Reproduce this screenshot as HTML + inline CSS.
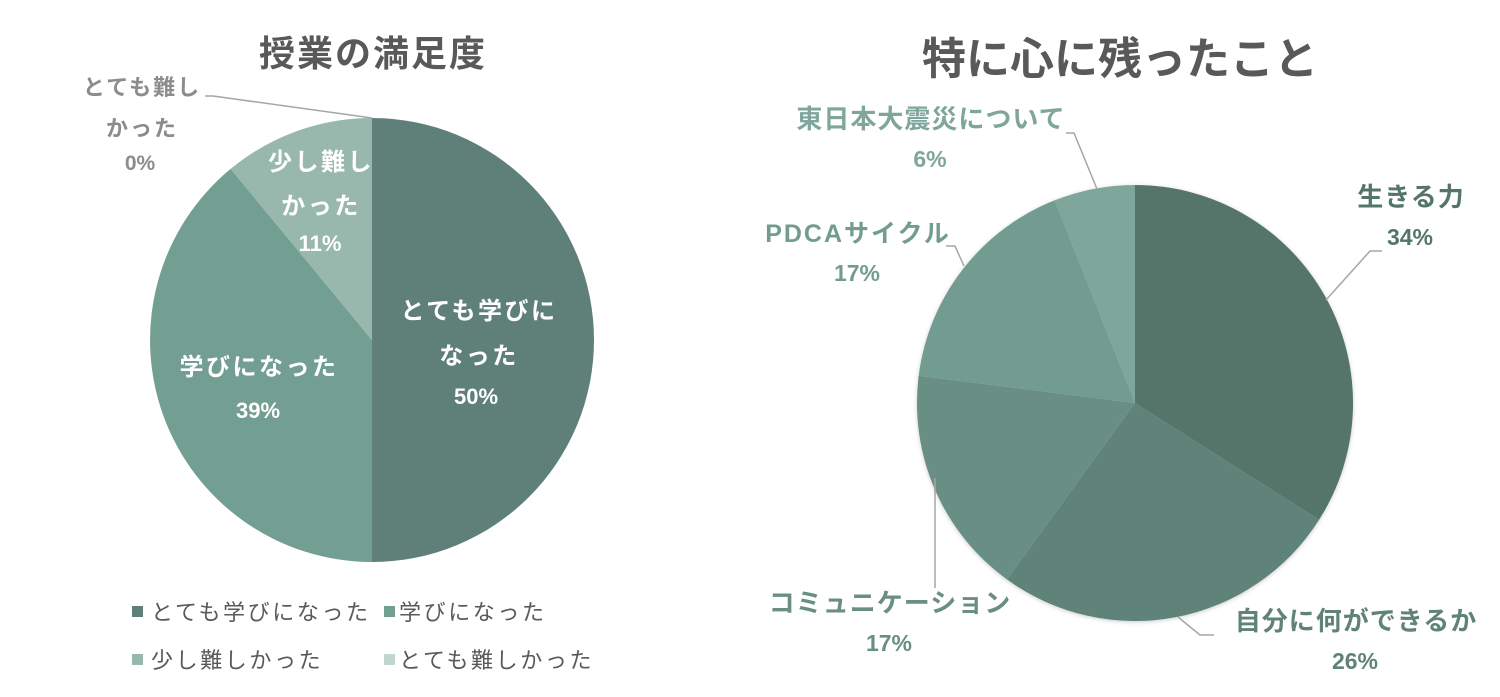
<!DOCTYPE html>
<html><head><meta charset="utf-8"><style>
html,body{margin:0;padding:0;background:#fff;}
svg{display:block;}
text{font-family:"Liberation Sans","Noto Sans CJK JP",sans-serif;}
</style></head><body>
<svg width="1500" height="697" viewBox="0 0 1500 697" xmlns="http://www.w3.org/2000/svg">
<defs>
<filter id="sh" x="-10%" y="-10%" width="120%" height="120%"><feDropShadow dx="0" dy="1" stdDeviation="2" flood-color="#000" flood-opacity="0.2"/></filter>
</defs>
<text x="373" y="66" text-anchor="middle" font-size="36" font-weight="bold" fill="#595959" letter-spacing="2">授業の満足度</text>
<path d="M372,340 L372,118 A222,222 0 0 1 372,562 Z" fill="#5e8078"/>
<path d="M372,340 L372,562 A222,222 0 0 1 230.6,168.9 Z" fill="#739e92"/>
<path d="M372,340 L230.6,168.9 A222,222 0 0 1 372,118 Z" fill="#98b8ae"/>
<polyline points="205,96 213,96 372,118" fill="none" stroke="#a6a6a6" stroke-width="1.5"/>
<g font-size="24" font-weight="bold" fill="#fff" text-anchor="middle" letter-spacing="2.5">
<text x="479" y="319">とても学びに</text>
<text x="479" y="364">なった</text>
<text x="476" y="404" font-size="22" letter-spacing="0">50%</text>
<text x="259" y="375">学びになった</text>
<text x="258" y="418" font-size="22" letter-spacing="0">39%</text>
<text x="321" y="170">少し難し</text>
<text x="321" y="214">かった</text>
<text x="320" y="251" font-size="22" letter-spacing="0">11%</text>
</g>
<g font-size="22" font-weight="bold" fill="#8c8c8c" text-anchor="middle" letter-spacing="2">
<text x="142" y="95">とても難し</text>
<text x="142" y="136">かった</text>
<text x="140" y="170" font-size="21" letter-spacing="0">0%</text>
</g>
<g font-size="22" fill="#595959" letter-spacing="2.6">
<rect x="132" y="606" width="11" height="11" fill="#5e8078"/><text x="151" y="620">とても学びになった</text>
<rect x="384" y="606" width="11" height="11" fill="#739e92"/><text x="399" y="620">学びになった</text>
<rect x="132" y="654" width="11" height="11" fill="#98b8ae"/><text x="151" y="668">少し難しかった</text>
<rect x="384" y="654" width="11" height="11" fill="#c3d5d0"/><text x="399" y="668">とても難しかった</text>
</g>
<text x="1120" y="74" text-anchor="middle" font-size="44" font-weight="bold" fill="#595959">特に心に残ったこと</text>
<g filter="url(#sh)">
<path d="M1135,403 L1135,185 A218,218 0 0 1 1319.1,519.8 Z" fill="#54756b"/>
<path d="M1135,403 L1319.1,519.8 A218,218 0 0 1 1006.9,579.4 Z" fill="#5f8279"/>
<path d="M1135,403 L1006.9,579.4 A218,218 0 0 1 918.7,375.7 Z" fill="#698f85"/>
<path d="M1135,403 L918.7,375.7 A218,218 0 0 1 1054.8,200.3 Z" fill="#739c91"/>
<path d="M1135,403 L1054.8,200.3 A218,218 0 0 1 1135,185 Z" fill="#7ea69b"/>
</g>
<g fill="none" stroke="#a6a6a6" stroke-width="1.5">
<polyline points="1066,133 1074,133 1097,189"/>
<polyline points="946,246 955,246 964,266"/>
<polyline points="1382,251 1370,251 1326,300"/>
<polyline points="1178,617 1200,635 1214,635"/>
<polyline points="935,478 935,588"/>
</g>
<g font-size="26" font-weight="bold" text-anchor="middle" letter-spacing="1">
<text x="931" y="128" fill="#7ea69b">東日本大震災について</text>
<text x="930" y="167" font-size="23" fill="#7ea69b" letter-spacing="0">6%</text>
<text x="858" y="242" fill="#739c91" font-size="25" letter-spacing="2">PDCAサイクル</text>
<text x="857" y="281" font-size="23" fill="#739c91" letter-spacing="0">17%</text>
<text x="1411" y="206" fill="#54756b">生きる力</text>
<text x="1410" y="245" font-size="23" fill="#54756b" letter-spacing="0">34%</text>
<text x="1356" y="630" fill="#5f8279">自分に何ができるか</text>
<text x="1355" y="669" font-size="23" fill="#5f8279" letter-spacing="0">26%</text>
<text x="890" y="612" fill="#698f85">コミュニケーション</text>
<text x="889" y="651" font-size="23" fill="#698f85" letter-spacing="0">17%</text>
</g>
</svg>
</body></html>
